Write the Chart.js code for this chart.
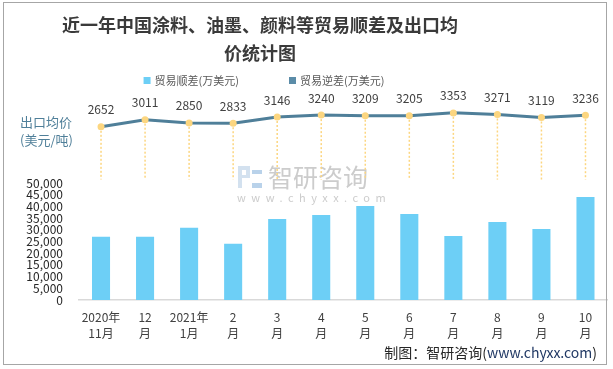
<!DOCTYPE html>
<html>
<head>
<meta charset="utf-8">
<script src="https://cdn.jsdelivr.net/npm/chart.js@4"></script>
<style>
    html, body { margin: 0; padding: 0; background: #fff; }
</style>
</head>
<body>
<canvas id="trade-chart" width="613" height="369"></canvas>
<script>
const months = [['2020年', '11月'], ['12', '月'], ['2021年', '1月'], ['2', '月'], ['3', '月'], ['4', '月'],
    ['5', '月'], ['6', '月'], ['7', '月'], ['8', '月'], ['9', '月'], ['10', '月']];
const surplus = [27000, 27000, 30900, 24000, 34600, 36300, 40200, 36800, 27400, 33300, 30300, 44000];
const deficit = [];
const exportPrice = [2652, 3011, 2850, 2833, 3146, 3240, 3209, 3205, 3353, 3271, 3119, 3236];
const surplusTicks = [0, 5000, 10000, 15000, 20000, 25000, 30000, 35000, 40000, 45000, 50000];

const FONT = '"Microsoft YaHei", "Noto Sans CJK SC", sans-serif';

const decorations = {
    id: 'decorations',
    beforeDatasetsDraw(chart) {
        const ctx = chart.ctx;
        // watermark
        ctx.save();
        ctx.fillStyle = '#d3e1ef';
        ctx.fillRect(238, 166, 12, 4);
        ctx.fillRect(238, 166, 4, 22);
        ctx.fillRect(246, 166, 4, 12);
        ctx.fillRect(238, 175, 12, 3);
        ctx.fillStyle = '#b9d2ea';
        ctx.fillRect(252, 170, 10, 4);
        ctx.fillRect(252, 183, 10, 5);
        ctx.fillStyle = '#cccccc';
        ctx.font = '25px ' + FONT;
        ctx.textBaseline = 'middle';
        ctx.fillText('智研咨询', 268, 177);
        ctx.font = '11px ' + FONT;
        ctx.letterSpacing = '5.5px';
        ctx.fillText('www.chyxx.com', 237, 198);
        ctx.restore();

        // dotted drop lines from the price points
        const meta = chart.getDatasetMeta(2);
        const base = chart.scales.y1.getPixelForValue(0);
        ctx.save();
        ctx.strokeStyle = '#fcd680';
        ctx.lineWidth = 1.5;
        ctx.setLineDash([2, 2]);
        meta.data.forEach(pt => {
            ctx.beginPath();
            ctx.moveTo(pt.x, pt.y);
            ctx.lineTo(pt.x, base);
            ctx.stroke();
        });
        ctx.restore();
    },
    afterDatasetsDraw(chart) {
        const ctx = chart.ctx;
        const meta = chart.getDatasetMeta(2);
        ctx.save();
        ctx.fillStyle = '#404040';
        ctx.font = '12px ' + FONT;
        ctx.textAlign = 'center';
        ctx.textBaseline = 'middle';
        meta.data.forEach((pt, i) => {
            ctx.fillText(exportPrice[i], pt.x, pt.y - 17);
        });
        ctx.restore();
    },
    afterDraw(chart) {
        const ctx = chart.ctx;
        ctx.save();
        // frame
        ctx.strokeStyle = '#a6a6a6';
        ctx.lineWidth = 1;
        ctx.strokeRect(3.5, 2.5, 603, 362);

        // title
        ctx.fillStyle = '#3a3a3a';
        ctx.font = 'bold 18px ' + FONT;
        ctx.textAlign = 'center';
        ctx.textBaseline = 'middle';
        ctx.fillText('近一年中国涂料、油墨、颜料等贸易顺差及出口均', 260, 25.5);
        ctx.fillText('价统计图', 260, 53);

        // legend
        ctx.font = '11px ' + FONT;
        ctx.textAlign = 'left';
        const items = [
            { text: chart.data.datasets[0].label, color: '#6dcff6' },
            { text: chart.data.datasets[1].label, color: '#5b8ca8' }
        ];
        const gap = 50;
        let total = gap;
        items.forEach(it => { it.w = ctx.measureText(it.text).width; total += 11 + it.w; });
        let x = 264 - total / 2;
        items.forEach(it => {
            ctx.fillStyle = it.color;
            ctx.fillRect(x, 77, 7, 7);
            ctx.fillStyle = '#595959';
            ctx.fillText(it.text, x + 11, 80.5);
            x += 11 + it.w + gap;
        });

        // price axis caption
        ctx.fillStyle = '#4f7f99';
        ctx.font = '13px ' + FONT;
        ctx.fillText('出口均价', 20, 122);
        ctx.fillText('(美元/吨)', 20, 140);

        // source
        ctx.font = '14px ' + FONT;
        const parts = [['制图：智研咨询(', '#262626'], ['www.chyxx.com', '#203864'], [')', '#262626']];
        let sx = 597 - parts.reduce((s, p) => s + ctx.measureText(p[0]).width, 0);
        parts.forEach(p => {
            ctx.fillStyle = p[1];
            ctx.fillText(p[0], sx, 353);
            sx += ctx.measureText(p[0]).width;
        });
        ctx.restore();
    }
};

const ctx = document.getElementById('trade-chart').getContext('2d');
new Chart(ctx, {
    type: 'bar',
    data: {
        labels: months,
        datasets: [{
            label: '贸易顺差(万美元)',
            data: surplus,
            backgroundColor: '#6dcff6',
            grouped: false,
            barPercentage: 0.41,
            categoryPercentage: 1,
            order: 2
        }, {
            label: '贸易逆差(万美元)',
            data: deficit,
            backgroundColor: '#5b8ca8',
            grouped: false,
            barPercentage: 0.41,
            categoryPercentage: 1,
            order: 3
        }, {
            type: 'line',
            label: '出口均价(美元/吨)',
            data: exportPrice,
            yAxisID: 'y1',
            borderColor: '#4f7f99',
            borderWidth: 3,
            pointRadius: 3.5,
            pointBorderWidth: 0,
            pointBackgroundColor: '#fcd680',
            order: 1
        }]
    },
    options: {
        responsive: false,
        animation: false,
        layout: { padding: { top: 100, left: 0, right: 5.5, bottom: 0 } },
        plugins: {
            legend: { display: false },
            tooltip: { enabled: false }
        },
        scales: {
            x: {
                grid: { display: false, drawTicks: false },
                border: { display: true, color: '#d9d9d9', width: 1.5 },
                ticks: {
                    color: '#404040',
                    font: { size: 12, family: FONT, lineHeight: 1.375 },
                    padding: 9,
                    maxRotation: 0,
                    autoSkip: false
                },
                afterFit: scale => { scale.height = 69; }
            },
            y: {
                min: 0,
                max: 85470,
                grid: { display: false, drawTicks: false },
                border: { display: false },
                ticks: {
                    autoSkip: false,
                    padding: 16,
                    color: '#262626',
                    font: { size: 12, family: FONT, lineHeight: 1 },
                    callback: v => v.toLocaleString('en-US')
                },
                afterBuildTicks: scale => { scale.ticks = surplusTicks.map(v => ({ value: v })); },
                afterFit: scale => { scale.width = 79; }
            },
            y1: {
                display: false,
                min: -6050,
                max: 4000
            }
        }
    },
    plugins: [decorations]
});
</script>
</body>
</html>
